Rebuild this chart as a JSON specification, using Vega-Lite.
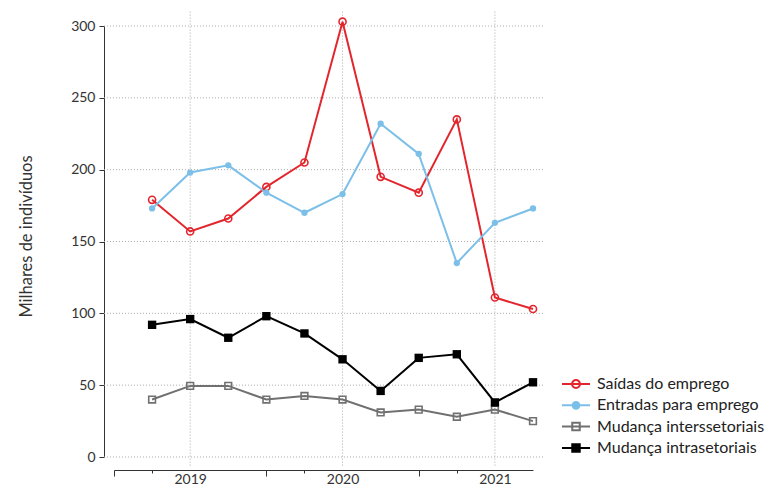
{
  "$schema": "https://vega.github.io/schema/vega-lite/v6.json",
  "width": 419,
  "height": 431,
  "autosize": "none",
  "padding": {"left": 114, "top": 26, "right": 236, "bottom": 29},
  "background": "white",
  "config": {
    "view": {"stroke": null},
    "font": "Lato",
    "axis": {"labelFont": "Lato", "titleFont": "Lato", "grid": false, "domainColor": "#333333", "tickColor": "#333333", "labelColor": "#333333", "titleColor": "#333333"}
  },
  "datasets": {
    "series": [
      {"t": 2019.25, "s": "Saídas do emprego", "v": 179},
      {"t": 2019.5, "s": "Saídas do emprego", "v": 157},
      {"t": 2019.75, "s": "Saídas do emprego", "v": 166},
      {"t": 2020.0, "s": "Saídas do emprego", "v": 188},
      {"t": 2020.25, "s": "Saídas do emprego", "v": 205},
      {"t": 2020.5, "s": "Saídas do emprego", "v": 303},
      {"t": 2020.75, "s": "Saídas do emprego", "v": 195},
      {"t": 2021.0, "s": "Saídas do emprego", "v": 184},
      {"t": 2021.25, "s": "Saídas do emprego", "v": 235},
      {"t": 2021.5, "s": "Saídas do emprego", "v": 111},
      {"t": 2021.75, "s": "Saídas do emprego", "v": 103},
      {"t": 2019.25, "s": "Entradas para emprego", "v": 173},
      {"t": 2019.5, "s": "Entradas para emprego", "v": 198},
      {"t": 2019.75, "s": "Entradas para emprego", "v": 203},
      {"t": 2020.0, "s": "Entradas para emprego", "v": 184},
      {"t": 2020.25, "s": "Entradas para emprego", "v": 170},
      {"t": 2020.5, "s": "Entradas para emprego", "v": 183},
      {"t": 2020.75, "s": "Entradas para emprego", "v": 232},
      {"t": 2021.0, "s": "Entradas para emprego", "v": 211},
      {"t": 2021.25, "s": "Entradas para emprego", "v": 135},
      {"t": 2021.5, "s": "Entradas para emprego", "v": 163},
      {"t": 2021.75, "s": "Entradas para emprego", "v": 173},
      {"t": 2019.25, "s": "Mudança interssetoriais", "v": 40},
      {"t": 2019.5, "s": "Mudança interssetoriais", "v": 49.5},
      {"t": 2019.75, "s": "Mudança interssetoriais", "v": 49.5},
      {"t": 2020.0, "s": "Mudança interssetoriais", "v": 40},
      {"t": 2020.25, "s": "Mudança interssetoriais", "v": 42.5},
      {"t": 2020.5, "s": "Mudança interssetoriais", "v": 40},
      {"t": 2020.75, "s": "Mudança interssetoriais", "v": 31},
      {"t": 2021.0, "s": "Mudança interssetoriais", "v": 33},
      {"t": 2021.25, "s": "Mudança interssetoriais", "v": 28},
      {"t": 2021.5, "s": "Mudança interssetoriais", "v": 33},
      {"t": 2021.75, "s": "Mudança interssetoriais", "v": 25},
      {"t": 2019.25, "s": "Mudança intrasetoriais", "v": 92},
      {"t": 2019.5, "s": "Mudança intrasetoriais", "v": 96},
      {"t": 2019.75, "s": "Mudança intrasetoriais", "v": 83},
      {"t": 2020.0, "s": "Mudança intrasetoriais", "v": 98},
      {"t": 2020.25, "s": "Mudança intrasetoriais", "v": 86},
      {"t": 2020.5, "s": "Mudança intrasetoriais", "v": 68},
      {"t": 2020.75, "s": "Mudança intrasetoriais", "v": 46},
      {"t": 2021.0, "s": "Mudança intrasetoriais", "v": 69},
      {"t": 2021.25, "s": "Mudança intrasetoriais", "v": 71.5},
      {"t": 2021.5, "s": "Mudança intrasetoriais", "v": 38},
      {"t": 2021.75, "s": "Mudança intrasetoriais", "v": 52}
    ],
    "hgrid": [{"g": 0}, {"g": 50}, {"g": 100}, {"g": 150}, {"g": 200}, {"g": 250}, {"g": 300}],
    "vgrid": [{"yr": 2019.5}, {"yr": 2020.5}, {"yr": 2021.5}]
  },
  "layer": [
    {
      "data": {"name": "hgrid"},
      "mark": {"type": "rule", "color": "#aaaaaa", "strokeWidth": 1, "strokeDash": [1, 2]},
      "encoding": {
        "y": {"field": "g", "type": "quantitative", "scale": {"domain": [0, 300], "nice": false, "zero": false},
          "axis": {"orient": "left", "values": [0, 50, 100, 150, 200, 250, 300], "offset": 10, "tickSize": 5, "labelPadding": 4, "labelFontSize": 14, "title": "Milhares de indivíduos", "titleFontSize": 16.5, "titleFontWeight": "normal", "titlePadding": 36, "titleY": 210}},
        "x": {"datum": 2018.934, "type": "quantitative", "scale": {"domain": [2019, 2021.75], "nice": false, "zero": false},
          "axis": {"orient": "bottom", "values": [2019, 2020, 2021], "offset": 13, "tickSize": 6, "labels": false, "domain": true, "title": null}},
        "x2": {"datum": 2021.829}
      }
    },
    {
      "data": {"name": "vgrid"},
      "mark": {"type": "rule", "color": "#aaaaaa", "strokeWidth": 1, "strokeDash": [1, 2]},
      "encoding": {
        "x": {"field": "yr", "type": "quantitative", "scale": {"domain": [2019, 2021.75], "nice": false, "zero": false},
          "axis": {"orient": "bottom", "values": [2019.5, 2020.5, 2021.5], "offset": 13, "ticks": false, "domain": false, "labelFontSize": 14, "labelPadding": 2, "labelExpr": "format(datum.value - 0.5, 'd')", "title": null}},
        "y": {"datum": -6, "type": "quantitative", "scale": {"domain": [0, 300], "nice": false, "zero": false}, "axis": null},
        "y2": {"datum": 311}
      }
    },
    {
      "data": {"name": "series"},
      "mark": {"type": "line", "strokeWidth": 2},
      "encoding": {
        "x": {"field": "t", "type": "quantitative", "scale": {"domain": [2019, 2021.75], "nice": false, "zero": false},
          "axis": {"orient": "bottom", "values": [2019.25, 2020.25, 2021.25], "offset": 13, "tickSize": 3, "labels": false, "domain": false, "title": null}},
        "y": {"field": "v", "type": "quantitative", "scale": {"domain": [0, 300], "nice": false, "zero": false}, "axis": null},
        "color": {
          "field": "s", "type": "nominal",
          "scale": {"domain": ["Saídas do emprego", "Entradas para emprego", "Mudança interssetoriais", "Mudança intrasetoriais"], "range": ["#e3262d", "#7cbfe8", "#707070", "#000000"]},
          "legend": {
            "orient": "none", "legendX": 453.5, "legendY": 349.5, "title": null, "padding": 0,
            "labelFont": "Lato", "labelFontSize": 16, "labelColor": "#222222", "labelOffset": 12.5, "labelLimit": 300,
            "symbolSize": 225, "symbolStrokeWidth": 2, "rowPadding": 4.3, "symbolOpacity": 1,
            "symbolType": {"expr": "datum.value === 'Saídas do emprego' ? 'M-1.87,0L1.87,0M0.53,0A0.53,0.53,0,1,1,-0.53,0A0.53,0.53,0,1,1,0.53,0Z' : datum.value === 'Entradas para emprego' ? 'M-1.87,0L1.87,0M0.45,0A0.45,0.45,0,1,1,-0.45,0A0.45,0.45,0,1,1,0.45,0Z' : 'M-1.87,0L1.87,0M-0.5,-0.5L0.5,-0.5L0.5,0.5L-0.5,0.5Z'"},
            "symbolFillColor": {"expr": "datum.value === 'Entradas para emprego' ? '#7cbfe8' : datum.value === 'Mudança intrasetoriais' ? '#000000' : 'transparent'"}
          }
        }
      }
    },
    {
      "data": {"name": "series"},
      "transform": [{"filter": "datum.s === 'Saídas do emprego'"}],
      "mark": {"type": "point", "shape": "circle", "filled": false, "size": 50, "strokeWidth": 1.6, "color": "#e3262d", "opacity": 1},
      "encoding": {
        "x": {"field": "t", "type": "quantitative", "scale": {"domain": [2019, 2021.75], "nice": false, "zero": false}, "axis": null},
        "y": {"field": "v", "type": "quantitative", "scale": {"domain": [0, 300], "nice": false, "zero": false}, "axis": null}
      }
    },
    {
      "data": {"name": "series"},
      "transform": [{"filter": "datum.s === 'Entradas para emprego'"}],
      "mark": {"type": "point", "shape": "circle", "filled": true, "size": 40, "color": "#7cbfe8", "opacity": 1},
      "encoding": {
        "x": {"field": "t", "type": "quantitative", "scale": {"domain": [2019, 2021.75], "nice": false, "zero": false}, "axis": null},
        "y": {"field": "v", "type": "quantitative", "scale": {"domain": [0, 300], "nice": false, "zero": false}, "axis": null}
      }
    },
    {
      "data": {"name": "series"},
      "transform": [{"filter": "datum.s === 'Mudança interssetoriais'"}],
      "mark": {"type": "point", "shape": "square", "filled": false, "size": 45, "strokeWidth": 1.6, "color": "#707070", "opacity": 1},
      "encoding": {
        "x": {"field": "t", "type": "quantitative", "scale": {"domain": [2019, 2021.75], "nice": false, "zero": false}, "axis": null},
        "y": {"field": "v", "type": "quantitative", "scale": {"domain": [0, 300], "nice": false, "zero": false}, "axis": null}
      }
    },
    {
      "data": {"name": "series"},
      "transform": [{"filter": "datum.s === 'Mudança intrasetoriais'"}],
      "mark": {"type": "point", "shape": "square", "filled": true, "size": 70, "color": "#000000", "opacity": 1},
      "encoding": {
        "x": {"field": "t", "type": "quantitative", "scale": {"domain": [2019, 2021.75], "nice": false, "zero": false}, "axis": null},
        "y": {"field": "v", "type": "quantitative", "scale": {"domain": [0, 300], "nice": false, "zero": false}, "axis": null}
      }
    }
  ],
  "resolve": {"axis": {"x": "independent", "y": "independent"}}
}
